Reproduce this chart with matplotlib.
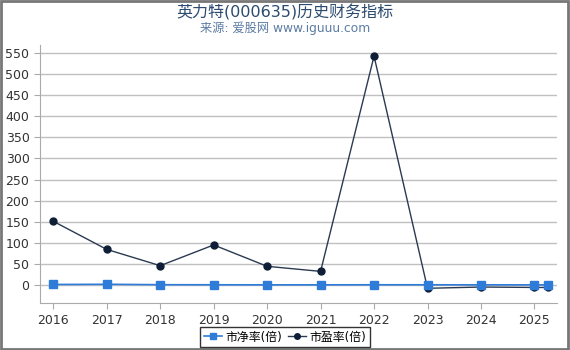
import numpy as np
import matplotlib
matplotlib.use("Agg")
import matplotlib.pyplot as plt
from matplotlib.patches import Rectangle

plt.rcParams['font.family'] = ['DejaVu Sans', 'Noto Sans CJK SC']

# data
years = [2016, 2017, 2018, 2019, 2020, 2021, 2022, 2023, 2024, 2025, 2025.25]
pb = [2.0, 2.5, 1.5, 1.3, 1.2, 1.2, 1.3, 1.3, 1.2, 1.1, 1.1]
pe = [151.5, 85, 46.5, 95.5, 45, 33, 542, -7, -4, -5, -5]
xticks = [2016, 2017, 2018, 2019, 2020, 2021, 2022, 2023, 2024, 2025]
yticks = list(range(0, 551, 50))


def main():
    fig = plt.figure(figsize=(5.7, 3.5), dpi=100)
    ax = fig.add_axes([0.070, 0.134, 0.907, 0.737])

    ax.plot(years, pb, "-", color="#2f7bd8", lw=1.2, marker="s", ms=5.5,
            label="市净率(倍)", zorder=3)
    ax.plot(years, pe, "-", color="#2a3a52", lw=1.0, marker="o", ms=5,
            mfc="#0f1e36", mec="#0f1e36", label="市盈率(倍)", zorder=2)

    ax.set_xlim(2015.75, 2025.42)
    ax.set_ylim(-42, 568)
    ax.set_xticks(xticks)
    ax.set_yticks(yticks)
    ax.tick_params(labelsize=9, colors="#333333", length=4, width=0.8)
    ax.tick_params(axis="both", color="#aaaaaa")
    ax.grid(axis="y", color="#c0c0c0", lw=1.0)
    ax.set_axisbelow(True)
    for s in ["top", "right"]:
        ax.spines[s].set_visible(False)
    for s in ["left", "bottom"]:
        ax.spines[s].set_color("#aaaaaa")

    fig.text(0.5, 0.965, "英力特(000635)历史财务指标", ha="center", va="center",
             fontsize=11.5, color="#2b4a6f")
    fig.text(0.5, 0.918, "来源: 爱股网 www.iguuu.com", ha="center", va="center",
             fontsize=8.8, color="#5b7ca3")

    leg = fig.legend(loc="center", bbox_to_anchor=(0.5, 0.037), ncol=2,
                     fontsize=8.6, frameon=True, fancybox=False,
                     handlelength=1.5, handletextpad=0.3, columnspacing=0.5,
                     borderpad=0.3, markerscale=0.8)
    leg.get_frame().set_edgecolor("black")
    leg.get_frame().set_linewidth(1.0)

    fig.patches.append(Rectangle((0.001, 0.003), 0.995, 0.994,
                                 transform=fig.transFigure, fill=False,
                                 edgecolor="#777777", lw=2.0))

    fig.savefig("out.png", dpi=100)


if __name__ == "__main__":
    main()
